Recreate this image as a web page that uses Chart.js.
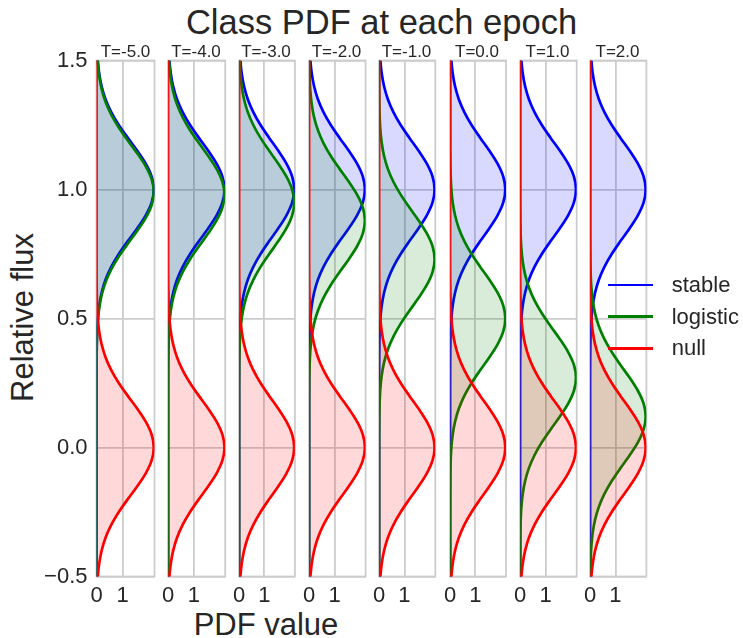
<!DOCTYPE html>
<html>
<head>
<meta charset="utf-8">
<title>Class PDF at each epoch</title>
<script src="https://cdn.jsdelivr.net/npm/chart.js@4.4.1/dist/chart.umd.min.js"></script>
<style>
  body { margin: 0; background: #fff; }
  #fig { position: relative; width: 743px; height: 638px; overflow: hidden;
         font-family: "Liberation Sans", Arial, sans-serif; color: #262626; background: #fff; }
  #fig canvas { position: absolute; top: 0; }
  .txt { position: absolute; white-space: nowrap; text-align: center; }
  #title { left: 81.5px; width: 600px; top: 4.8px; font-size: 34.5px; line-height: 34.5px; }
  #ylabel { left: -128px; width: 300px; top: 302px; font-size: 31px; line-height: 31px; transform: rotate(-90deg); }
  #xlabel { left: 116px; width: 300px; top: 608.7px; font-size: 31px; line-height: 31px; }
  #legend { position: absolute; left: 0; top: 0; z-index: 2; }
  .key { position: absolute; left: 607.7px; width: 45.3px; height: 2.7px; }
  .keytxt { position: absolute; left: 671.7px; font-size: 22px; line-height: 22px; white-space: nowrap; }
</style>
</head>
<body>
<div id="fig">
  <div class="txt" id="title">Class PDF at each epoch</div>
  <div class="txt" id="ylabel">Relative flux</div>
  <div class="txt" id="xlabel">PDF value</div>
  <div id="legend"></div>
</div>
<script>
const epochs = [-5, -4, -3, -2, -1, 0, 1, 2];
const classNames = ['stable', 'logistic', 'null'];
const classColors = ['#0000ff', '#008000', '#ff0000'];
const classFills = ['rgba(0,0,255,0.15)', 'rgba(0,128,0,0.15)', 'rgba(255,0,0,0.15)'];

// mean relative flux of each class at each epoch
const stableMean   = [1.00, 1.00, 1.00, 1.00, 1.00, 1.00, 1.00, 1.00];
const logisticMean = [0.99, 0.98, 0.95, 0.88, 0.73, 0.50, 0.27, 0.12];
const nullMean     = [0.00, 0.00, 0.00, 0.00, 0.00, 0.00, 0.00, 0.00];

// class PDF: value at each flux offset from the class mean
const fluxOffset = [-2, -0.8, -0.75, -0.7, -0.65, -0.6, -0.55, -0.5, -0.45, -0.4, -0.35, -0.3,
  -0.25, -0.2, -0.15, -0.1, -0.05, 0, 0.05, 0.1, 0.15, 0.2, 0.25, 0.3, 0.35, 0.4, 0.45,
  0.5, 0.55, 0.6, 0.65, 0.7, 0.75, 0.8, 2];
const pdfValue = [0, 0, 0, 0.001, 0.004, 0.010, 0.023, 0.050, 0.103, 0.196, 0.345, 0.564,
  0.853, 1.198, 1.561, 1.885, 2.111, 2.192, 2.111, 1.885, 1.561, 1.198, 0.853, 0.564, 0.345,
  0.196, 0.103, 0.050, 0.023, 0.010, 0.004, 0.001, 0, 0, 0];

const fluxTicks = [-0.5, 0, 0.5, 1.0, 1.5];
const pdfTicks = [0, 1];

Chart.defaults.font.family = '"Liberation Sans", Arial, sans-serif';
Chart.defaults.color = '#262626';

const gridColor = '#cccccc';

// light grey box round each panel
const frame = {
  id: 'frame',
  beforeDatasetsDraw(chart) {
    const a = chart.chartArea, ctx = chart.ctx;
    ctx.save();
    ctx.strokeStyle = gridColor;
    ctx.lineWidth = 1.8;
    ctx.strokeRect(a.left, a.top, a.right - a.left, a.bottom - a.top);
    ctx.restore();
  }
};

const fig = document.getElementById('fig');
const panelW = 58;

epochs.forEach(function(t, i) {
  const areaLeft = 96.5 + i * 70.3;
  // canvas is symmetric about the panel so the title sits over its middle
  const canvasLeft = i === 0 ? 0 : Math.floor(areaLeft) - 10;
  const side = areaLeft - canvasLeft;
  const cv = document.createElement('canvas');
  cv.width = Math.round(2 * side + panelW);
  cv.height = 638;
  cv.style.left = canvasLeft + 'px';
  fig.insertBefore(cv, document.getElementById('legend'));

  const means = [stableMean[i], logisticMean[i], nullMean[i]];

  new Chart(cv, {
    type: 'line',
    data: {
      datasets: classNames.map(function(name, k) {
        return {
          label: name,
          data: fluxOffset.map(function(d, j) { return { x: pdfValue[j], y: means[k] + d }; }),
          borderColor: classColors[k],
          backgroundColor: classFills[k],
          borderWidth: 2.7,
          pointRadius: 0,
          fill: 'origin',
          cubicInterpolationMode: 'monotone',
          order: 3 - k
        };
      })
    },
    options: {
      indexAxis: 'y',
      responsive: false,
      animation: false,
      devicePixelRatio: 1,
      events: [],
      layout: { padding: 0 },
      plugins: {
        legend: { display: false },
        tooltip: { enabled: false },
        title: {
          display: true,
          text: 'T=' + t.toFixed(1),
          color: '#262626',
          font: { size: 17, weight: 'normal', lineHeight: 1 },
          padding: { top: 43.5, bottom: 0 }
        }
      },
      scales: {
        x: {
          type: 'linear',
          min: 0,
          max: 2.22,
          afterBuildTicks: function(s) { s.ticks = pdfTicks.map(function(v) { return { value: v }; }); },
          afterFit: function(s) { s.height = 61.5; },
          grid: { color: gridColor, lineWidth: 1.8, drawTicks: false },
          border: { display: false },
          ticks: { padding: 6, font: { size: 22 }, maxRotation: 0, autoSkip: false }
        },
        y: {
          type: 'linear',
          min: -0.5,
          max: 1.5,
          afterBuildTicks: function(s) { s.ticks = fluxTicks.map(function(v) { return { value: v }; }); },
          afterFit: function(s) { s.width = side; },
          grid: { color: gridColor, lineWidth: 1.8, drawTicks: false },
          border: { display: false },
          ticks: {
            display: i === 0,
            padding: 9,
            font: { size: 22 },
            callback: function(v) { return v.toFixed(1).replace('-', '\u2212'); }
          }
        },
        // empty right-hand axis, balances the left one
        yPad: {
          type: 'linear',
          position: 'right',
          afterFit: function(s) { s.width = side; },
          grid: { display: false },
          border: { display: false },
          ticks: { display: false }
        }
      }
    },
    plugins: [frame]
  });
});

// legend beside the last panel
const legend = document.getElementById('legend');
classNames.forEach(function(name, k) {
  const y = 285 + k * 31.65;
  const key = document.createElement('div');
  key.className = 'key';
  key.style.top = (y - 1.35) + 'px';
  key.style.background = classColors[k];
  legend.appendChild(key);
  const label = document.createElement('div');
  label.className = 'keytxt';
  label.style.top = (y - 10.9) + 'px';
  label.textContent = name;
  legend.appendChild(label);
});
</script>
</body>
</html>
